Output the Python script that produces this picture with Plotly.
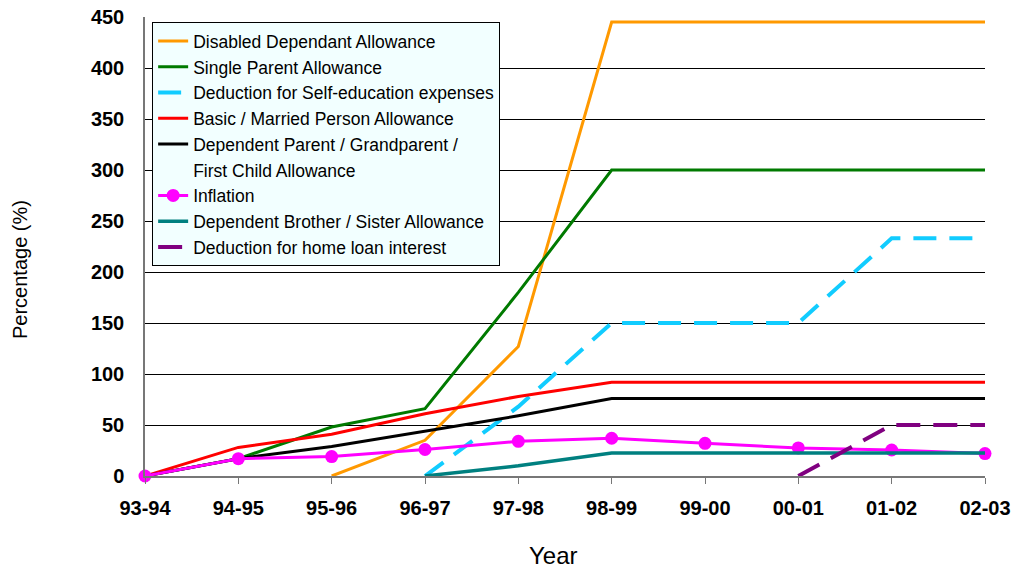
import plotly.graph_objects as go

years = ["93-94", "94-95", "95-96", "96-97", "97-98", "98-99", "99-00", "00-01", "01-02", "02-03"]

disabled_dependant = [None, None, 0, 35, 127, 445, 445, 445, 445, 445]
single_parent = [0, 17, 48, 66, 180, 300, 300, 300, 300, 300]
self_education = [None, None, None, 0, 68, 150, 150, 150, 233, 233]
basic_married = [0, 28, 41, 61, 78, 92, 92, 92, 92, 92]
dependent_parent = [0, 17, 29, 44, 59, 76, 76, 76, 76, 76]
inflation = [0, 17, 19, 26, 34, 37, 32, 27.5, 25.5, 22]
brother_sister = [None, None, None, 0, 10, 22.5, 22.5, 22.5, 22.5, 22.5]
home_loan = [None, None, None, None, None, None, None, 0, 50, 50]

series = [
    ("Disabled Dependant Allowance", disabled_dependant, "#FF9900", "solid", 3, False),
    ("Single Parent Allowance", single_parent, "#007A00", "solid", 3, False),
    ("Deduction for Self-education expenses", self_education, "#11CCFF", "23px,13px", 4, False),
    ("Basic / Married Person Allowance", basic_married, "#FF0000", "solid", 3, False),
    ("Dependent Parent / Grandparent /", dependent_parent, "#000000", "solid", 3, False),
    ("First Child Allowance", None, "rgba(0,0,0,0)", "solid", 3, False),
    ("Inflation", inflation, "#FF00FF", "solid", 3, True),
    ("Dependent Brother / Sister Allowance", brother_sister, "#008080", "solid", 3.5, False),
    ("Deduction for home loan interest", home_loan, "#800080", "24px,13px", 4, False),
]

fig = go.Figure()
for name, vals, color, dash, width, markers in series:
    if vals is None:
        # continuation line of the previous legend label
        fig.add_trace(go.Scatter(
            x=[None], y=[None], name=name, mode="lines",
            line=dict(color=color, width=width), hoverinfo="skip",
        ))
        continue
    fig.add_trace(go.Scatter(
        x=years, y=vals, name=name,
        mode="lines+markers" if markers else "lines",
        line=dict(color=color, width=width, dash=dash),
        marker=dict(size=13, color=color) if markers else None,
        connectgaps=False, cliponaxis=False,
    ))

fig.update_layout(
    width=1013, height=569,
    margin=dict(l=145, r=28, t=17, b=93, autoexpand=False),
    paper_bgcolor="white", plot_bgcolor="white",
    font=dict(family="Liberation Sans, Arial, sans-serif", color="black"),
    showlegend=True,
    legend=dict(
        x=0.0085, y=0.989, xanchor="left", yanchor="top",
        bgcolor="#F2FFFF", bordercolor="black", borderwidth=1,
        font=dict(size=17.5), traceorder="normal",
        itemwidth=30,
    ),
    xaxis=dict(
        type="category", range=[0, 9], showgrid=False, automargin=False,
        showline=True, linecolor="#777777", linewidth=1.5,
        ticks="outside", ticklen=6, tickcolor="#777777",
        tickfont=dict(size=20),
        ticklabelstandoff=7,
        tickprefix="<b>", ticksuffix="</b>",
    ),
    yaxis=dict(
        range=[0, 450], dtick=50, showgrid=True, gridcolor="black", gridwidth=1,
        zeroline=False, showline=True, linecolor="#777777", linewidth=1.5,
        ticks="", tickfont=dict(size=20), automargin=False,
        ticklabelstandoff=15,
        tickprefix="<b>", ticksuffix="</b>",
    ),
    annotations=[
        dict(text="Year", showarrow=False, xref="paper", yref="paper",
             x=(553 - 145) / 840, y=(476 - 555) / 459,
             xanchor="center", yanchor="middle", font=dict(size=24)),
        dict(text="Percentage (%)", textangle=-90, showarrow=False,
             xref="paper", yref="paper",
             x=(20 - 145) / 840, y=(476 - 270) / 459,
             xanchor="center", yanchor="middle", font=dict(size=20)),
    ],
)

fig.write_html("out.html")
